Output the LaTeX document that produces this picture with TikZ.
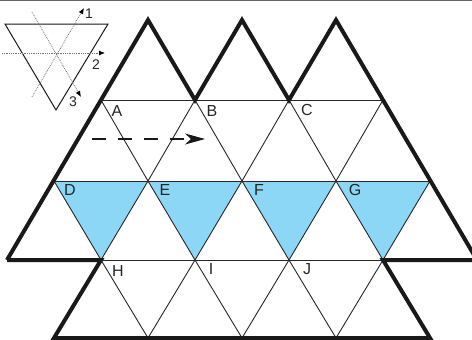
\documentclass[tikz,border=0pt]{standalone}
\usepackage{fontspec}
\setmainfont{Liberation Sans}
\usetikzlibrary{arrows.meta}
\definecolor{tileblue}{RGB}{141,215,246}
\definecolor{rulegray}{RGB}{100,100,100}
\begin{document}
\begin{tikzpicture}[x=1pt,y=-1pt,
  thickline/.style={line width=4pt,line join=miter,black!90},
  thinline/.style={line width=0.9pt,black!85},
  bluetile/.style={fill=tileblue,draw=none},
  lbl/.style={font=\fontsize{16}{16}\selectfont,text=black!85,inner sep=0pt},
  axis/.style={densely dotted,line width=0.8pt,black!55,-{Latex[length=6pt,width=5pt,black]}},
  axlbl/.style={font=\fontsize{14}{14}\selectfont,text=black!85,inner sep=0pt}]
\useasboundingbox (0,0) rectangle (472,340);
\begin{scope}
\clip (0,0) rectangle (472,340);
% lattice vertices
\foreach \n/\x in {a/148,b/242,c/336}{\coordinate (t\n) at (\x,20);}
\foreach \n/\x in {0/7,1/101,2/195,3/289,4/383,5/477}{\coordinate (r1\n) at (\x,100);\coordinate (r3\n) at (\x,260);}
\foreach \n/\x in {0/54,1/148,2/242,3/336,4/430}{\coordinate (r2\n) at (\x,181);\coordinate (r4\n) at (\x,338);}
% blue tiles
\fill[bluetile] (r20) -- (r21) -- (r31) -- cycle;
\fill[bluetile] (r21) -- (r22) -- (r32) -- cycle;
\fill[bluetile] (r22) -- (r23) -- (r33) -- cycle;
\fill[bluetile] (r23) -- (r24) -- (r34) -- cycle;
% thin lines
\draw[thinline] (r11) -- (r14);
\draw[thinline] (r20) -- (r24);
\draw[thinline] (r31) -- (r34);
\draw[thinline] (r11) -- (r21) -- (r12) -- (r22) -- (r13) -- (r23) -- (r14) -- (r24);
\draw[thinline] (r20) -- (r31) -- (r21) -- (r32) -- (r22) -- (r33) -- (r23) -- (r34) -- (r24);
\draw[thinline] (r31) -- (r41) -- (r32) -- (r42) -- (r33) -- (r43) -- (r34);
% thick outline
\draw[thickline] (r30) -- (ta) -- (r12) -- (tb) -- (r13) -- (tc) -- (r35);
\draw[thickline] (r30) -- (r31) -- (r40) -- (r44) -- (r34) -- (r35);
% top rule
\draw[rulegray,line width=1.5pt] (0,0.5) -- (472,0.5);
\end{scope}
% labels
\node[lbl] (lA) at (117,111) {A};
\node[lbl] (lB) at (212,111) {B};
\node[lbl] (lC) at (307,110) {C};
\node[lbl] (lD) at (70,190) {D};
\node[lbl] (lE) at (165,190) {E};
\node[lbl] (lF) at (259,190) {F};
\node[lbl] (lG) at (355,190) {G};
\node[lbl] (lH) at (118,271) {H};
\node[lbl] (lI) at (211,269) {I};
\node[lbl] (lJ) at (307,269) {J};
% dashed arrow
\coordinate (ds) at (92,139);
\coordinate (de) at (205,139);
\draw[line width=1.1pt,black!90,dash pattern=on 14pt off 12pt,-{Stealth[length=20pt,width=11pt,inset=6pt]}] (ds) -- (de);
% inset
\coordinate (iL) at (5,24);
\coordinate (iR) at (108,24);
\coordinate (iB) at (56,110);
\draw[line width=1pt,black!90] (iL) -- (iR) -- (iB) -- cycle;
\coordinate (a1s) at (32,97); \coordinate (a1e) at (84,8);
\coordinate (a2s) at (2,53); \coordinate (a2e) at (105,53);
\coordinate (a3s) at (32,12); \coordinate (a3e) at (81,97);
\draw[axis] (a1s) -- (a1e);
\draw[axis] (a2s) -- (a2e);
\draw[axis] (a3s) -- (a3e);
\node[axlbl] (n1) at (89,14) {1};
\node[axlbl] (n2) at (96,65) {2};
\node[axlbl] (n3) at (73,102) {3};
\end{tikzpicture}
\end{document}
